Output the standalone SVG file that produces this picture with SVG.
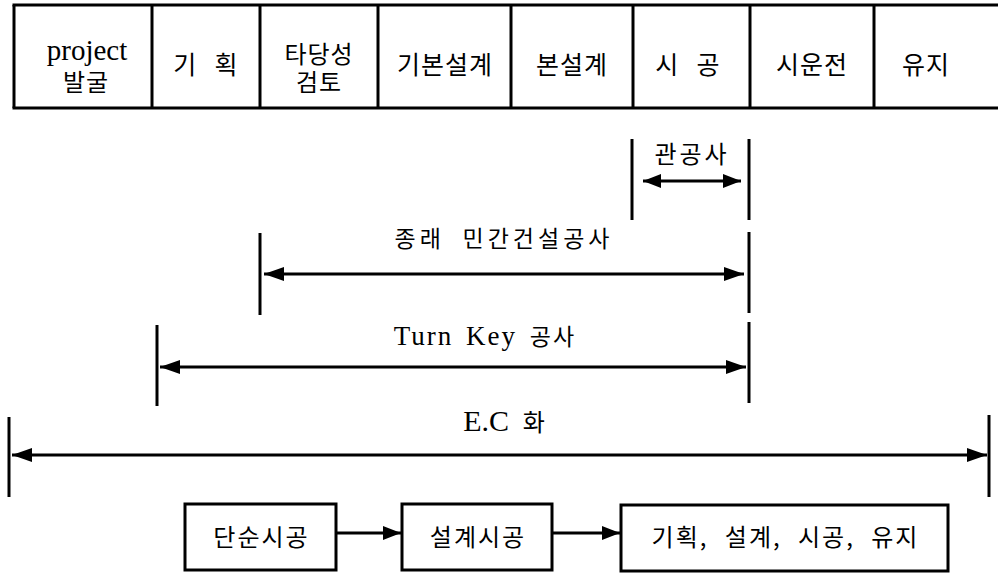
<svg xmlns="http://www.w3.org/2000/svg" width="998" height="574" viewBox="0 0 998 574">
<style>
.ln{stroke:#000;stroke-width:3;fill:none}
.bx{stroke:#000;stroke-width:3;fill:#fff}
.ko{font-family:"Liberation Serif","Noto Sans CJK KR",serif;fill:#000;text-anchor:middle}
.ks{font-family:"Noto Sans CJK KR","Noto Sans",sans-serif;fill:#000;text-anchor:middle;font-size:24px;letter-spacing:2px}
.t{font-size:25px;letter-spacing:1px}
.t2{font-size:24px;letter-spacing:1px}
</style>
<defs>
<marker id="ah" viewBox="0 0 20 14" refX="20" refY="7" markerWidth="20" markerHeight="14" markerUnits="userSpaceOnUse" orient="auto-start-reverse">
<path d="M0,0 L20,7 L0,14 Z" fill="#000"/>
</marker>
<marker id="ah2" viewBox="0 0 18 14" refX="18" refY="7" markerWidth="18" markerHeight="14" markerUnits="userSpaceOnUse" orient="auto-start-reverse">
<path d="M0,0 L18,7 L0,14 Z" fill="#000"/>
</marker>
</defs>
<rect width="998" height="574" fill="#fff"/>
<g id="phase-table">
<line class="ln" x1="12.5" y1="5" x2="998" y2="5"/>
<line class="ln" x1="12.5" y1="108" x2="998" y2="108"/>
<line class="ln" x1="14" y1="5" x2="14" y2="108"/>
<line class="ln" x1="152" y1="5" x2="152" y2="108"/>
<line class="ln" x1="260" y1="5" x2="260" y2="108"/>
<line class="ln" x1="378" y1="5" x2="378" y2="108"/>
<line class="ln" x1="511" y1="5" x2="511" y2="108"/>
<line class="ln" x1="633" y1="5" x2="633" y2="108"/>
<line class="ln" x1="750" y1="5" x2="750" y2="108"/>
<line class="ln" x1="874" y1="5" x2="874" y2="108"/>
</g>
<g id="cell-project">
<text class="ko" x="87" y="60" font-size="29">project</text>
<text class="ko t2" x="86" y="91">발굴</text>
</g>
<g id="cell-plan"><text class="ko t" x="206" y="74" word-spacing="10">기 획</text></g>
<g id="cell-feasibility">
<text class="ko t2" x="319" y="63">타당성</text>
<text class="ko t2" x="319" y="91">검토</text>
</g>
<g id="cell-basic"><text class="ko t" x="445" y="74">기본설계</text></g>
<g id="cell-detail"><text class="ko t" x="572" y="74">본설계</text></g>
<g id="cell-construct"><text class="ko t" x="688" y="74" word-spacing="10">시 공</text></g>
<g id="cell-commission"><text class="ko t" x="812" y="74">시운전</text></g>
<g id="cell-maintain"><text class="ko t" x="926" y="74">유지</text></g>

<g id="span-public">
<line class="ln" x1="632" y1="139" x2="632" y2="220"/>
<line class="ln" x1="749" y1="139" x2="749" y2="220"/>
<text class="ko" x="692" y="163" font-size="24" letter-spacing="3">관공사</text>
</g>
<g id="span-private">
<line class="ln" x1="260" y1="233" x2="260" y2="315"/>
<line class="ln" x1="749" y1="232" x2="749" y2="313"/>
<text class="ko" x="504" y="247" font-size="23" letter-spacing="4" word-spacing="8">종래 민간건설공사</text>
</g>
<g id="span-turnkey">
<line class="ln" x1="157" y1="325" x2="157" y2="406"/>
<line class="ln" x1="749" y1="322" x2="749" y2="403"/>
<text class="ko" x="485" y="345" font-size="27" letter-spacing="2" word-spacing="4">Turn Key <tspan font-size="23">공사</tspan></text>
</g>
<g id="span-ec">
<line class="ln" x1="9" y1="417" x2="9" y2="497"/>
<line class="ln" x1="989" y1="415" x2="989" y2="497"/>
<text class="ko" x="504" y="431" font-size="30" word-spacing="6">E.C <tspan font-size="24">화</tspan></text>
</g>

<g id="box-simple">
<rect class="bx" x="185" y="504" width="151" height="66"/>
<text class="ks" x="261.5" y="546">단순시공</text>
</g>
<g id="box-designbuild">
<rect class="bx" x="402" y="504" width="150" height="66"/>
<text class="ks" x="478" y="546">설계시공</text>
</g>
<g id="box-full">
<rect class="bx" x="621" y="505" width="327" height="66"/>
<text class="ks" x="785.5" y="546" word-spacing="9">기획, 설계, 시공, 유지</text>
</g>

<g id="connectors">
<line class="ln" x1="643" y1="181" x2="741" y2="181" marker-start="url(#ah2)" marker-end="url(#ah2)"/>
<line class="ln" x1="264" y1="274" x2="744" y2="274" marker-start="url(#ah)" marker-end="url(#ah)"/>
<line class="ln" x1="160" y1="367" x2="746" y2="367" marker-start="url(#ah)" marker-end="url(#ah)"/>
<line class="ln" x1="12" y1="455" x2="987" y2="455" marker-start="url(#ah)" marker-end="url(#ah)"/>
<line class="ln" x1="337" y1="533" x2="401" y2="533" marker-end="url(#ah2)"/>
<line class="ln" x1="553" y1="533" x2="620" y2="533" marker-end="url(#ah2)"/>
</g>
</svg>
